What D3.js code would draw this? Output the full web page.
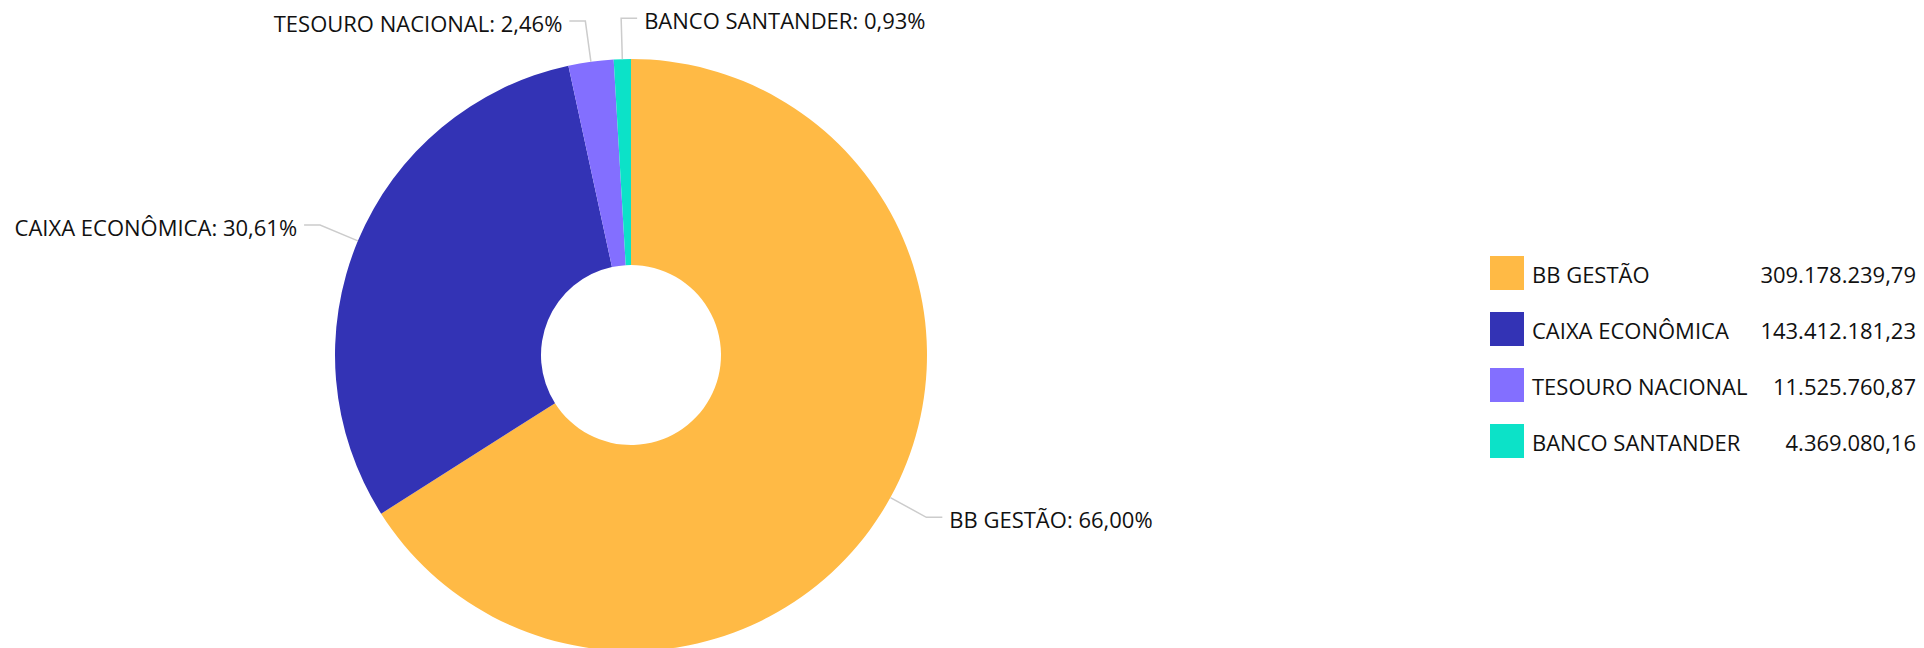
<!DOCTYPE html>
<html>
<head>
<meta charset="utf-8">
<script src="https://cdn.jsdelivr.net/npm/d3@7"></script>
<style>
  html, body { margin: 0; padding: 0; background: #fff; }
  svg { display: block; font-family: "Open Sans", sans-serif; }
</style>
</head>
<body>
<svg id="chart" width="1924" height="648"></svg>
<script>
// data
const categories = ["BB GESTÃO", "CAIXA ECONÔMICA", "TESOURO NACIONAL", "BANCO SANTANDER"];
const values = [309178239.79, 143412181.23, 11525760.87, 4369080.16];
const colors = ["#ffba45", "#3333b5", "#836fff", "#0ce2c8"];

const width = 1924, height = 648;
const cx = 631, cy = 355;
const outerR = 296, innerR = 90;

const ptBR = d3.formatLocale({ decimal: ",", thousands: ".", grouping: [3], currency: ["R$", ""] });
const fmtValue = ptBR.format(",.2f");
const fmtPct = ptBR.format(".2f");

const svg = d3.select("#chart");
const total = d3.sum(values);

const data = categories.map((c, i) => ({ name: c, value: values[i], color: colors[i] }));

const pie = d3.pie().sort(null).value(d => d.value);
const arcs = pie(data);

const arc = d3.arc().innerRadius(innerR).outerRadius(outerR);

const g = svg.append("g").attr("transform", `translate(${cx},${cy})`);

g.selectAll("path.slice")
  .data(arcs)
  .enter().append("path")
  .attr("class", "slice")
  .attr("d", arc)
  .attr("fill", d => d.data.color);

// leader lines + labels (radial part then horizontal part)
const len1 = 41, len2 = 16, gap = 7;

// work out label positions first so near-top labels on the same side can be flipped
const labels = arcs.map(d => {
  const a = (d.startAngle + d.endAngle) / 2;
  const sx = Math.sin(a), sy = -Math.cos(a);
  return {
    d: d,
    p0: [sx * outerR, sy * outerR],
    p1: [sx * (outerR + len1), sy * (outerR + len1)],
    right: sx >= 0
  };
});

// if two left labels collide, the one nearer the top axis goes to the right
const left = labels.filter(l => !l.right).sort((a, b) => a.p1[1] - b.p1[1]);
for (let i = 1; i < left.length; i++) {
  if (Math.abs(left[i].p1[1] - left[i - 1].p1[1]) < 28) {
    const flip = Math.abs(left[i].p1[0]) < Math.abs(left[i - 1].p1[0]) ? left[i] : left[i - 1];
    flip.right = true;
  }
}

labels.forEach(l => {
  const p2 = [l.p1[0] + (l.right ? len2 : -len2), l.p1[1]];

  g.append("polyline")
    .attr("points", [l.p0, l.p1, p2].map(p => p.join(",")).join(" "))
    .attr("fill", "none")
    .attr("stroke", "#cccccc")
    .attr("stroke-width", 1.5);

  g.append("text")
    .attr("x", p2[0] + (l.right ? gap : -gap))
    .attr("y", p2[1] + 11)
    .attr("text-anchor", l.right ? "start" : "end")
    .attr("font-size", 22)
    .attr("fill", "#111")
    .text(l.d.data.name + ": " + fmtPct(l.d.data.value / total * 100) + "%");
});

// legend
const legendY = d3.scaleBand().domain(categories).range([256, 256 + 56 * categories.length]);
const legend = svg.append("g");

const rows = legend.selectAll("g.row")
  .data(data)
  .enter().append("g")
  .attr("class", "row")
  .attr("transform", d => `translate(0,${legendY(d.name)})`);

rows.append("rect")
  .attr("x", 1490)
  .attr("y", 0)
  .attr("width", 34)
  .attr("height", 34)
  .attr("fill", d => d.color);

rows.append("text")
  .attr("x", 1532)
  .attr("y", 27)
  .attr("font-size", 22)
  .attr("fill", "#111")
  .text(d => d.name);

rows.append("text")
  .attr("x", 1916)
  .attr("y", 27)
  .attr("text-anchor", "end")
  .attr("font-size", 22)
  .attr("fill", "#111")
  .text(d => fmtValue(d.value));
</script>
</body>
</html>
